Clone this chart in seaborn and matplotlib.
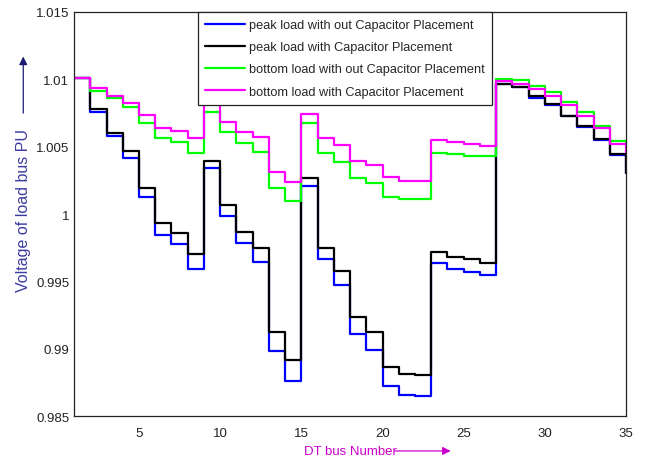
import matplotlib
matplotlib.use("Agg")
import matplotlib.pyplot as plt
import seaborn as sns
import pandas as pd

bus = list(range(1, 36))

peak_no_cap = [1.0101, 1.0076, 1.00578, 1.00415, 1.00125, 0.99848, 0.99779, 0.99591, 1.0034, 0.99989,
               0.99784, 0.99643, 0.98987, 0.9876, 1.00211, 0.99663, 0.99477, 0.99111, 0.98993, 0.98723,
               0.98659, 0.98649, 0.99636, 0.99593, 0.99569, 0.99547, 1.00966, 1.00941, 1.00864, 1.00812,
               1.00728, 1.00648, 1.00552, 1.00438, 1.00306]
peak_cap = [1.0101, 1.0078, 1.00602, 1.00467, 1.00194, 0.99932, 0.99863, 0.99705, 1.00397, 1.00068,
            0.9987, 0.99749, 0.99124, 0.98916, 1.00266, 0.99749, 0.99576, 0.99235, 0.99128, 0.98864,
            0.98815, 0.98802, 0.99722, 0.9968, 0.99663, 0.99638, 1.00966, 1.00941, 1.00879, 1.00818,
            1.00731, 1.00652, 1.00558, 1.00444, 1.00306]
bottom_no_cap = [1.0101, 1.00916, 1.0086, 1.00793, 1.00679, 1.00563, 1.00538, 1.00454, 1.00756, 1.00607,
                 1.00528, 1.00464, 1.00194, 1.00098, 1.00677, 1.00454, 1.00385, 1.00264, 1.00234, 1.0013,
                 1.00113, 1.00113, 1.00452, 1.00444, 1.00434, 1.00429, 1.01003, 1.00993, 1.00949, 1.00904,
                 1.00835, 1.00756, 1.00657, 1.00543, 1.0049]
bottom_cap = [1.0101, 1.00934, 1.00879, 1.00823, 1.00734, 1.00642, 1.00615, 1.00563, 1.0083, 1.00682,
              1.00612, 1.0057, 1.00315, 1.00236, 1.00746, 1.00563, 1.00513, 1.00395, 1.00367, 1.00278,
              1.00246, 1.00246, 1.00553, 1.00533, 1.00518, 1.00508, 1.00986, 1.00966, 1.00929, 1.00879,
              1.0081, 1.00726, 1.00637, 1.00523, 1.0046]

labels = ['peak load with out Capacitor Placement',
          'peak load with Capacitor Placement',
          'bottom load with out Capacitor Placement',
          'bottom load with Capacitor Placement']
colors = ['#0000ff', '#000000', '#00ff00', '#ff00ff']

sns.set_style('white')
plt.rcParams['font.family'] = ['Liberation Sans', 'DejaVu Sans']

df = pd.DataFrame({'bus': bus * 4,
                   'voltage': peak_no_cap + peak_cap + bottom_no_cap + bottom_cap,
                   'series': [l for l in labels for _ in bus]})

fig = plt.figure(figsize=(6.46, 4.64), dpi=100)
ax = fig.add_axes([0.1146, 0.101, 0.8545, 0.871])

sns.lineplot(data=df, x='bus', y='voltage', hue='series', hue_order=labels,
             palette=colors, drawstyle='steps-post', linewidth=1.6, ax=ax)

ax.set_xlim(1, 35)
ax.set_ylim(0.985, 1.015)
ax.set_xticks([5, 10, 15, 20, 25, 30, 35])
ax.set_yticks([0.985, 0.99, 0.995, 1.0, 1.005, 1.01, 1.015])
ax.set_yticklabels(['0.985', '0.99', '0.995', '1', '1.005', '1.01', '1.015'])
ax.tick_params(direction='in', length=4, labelsize=9.5, colors='#222222', width=0.8)
ax.tick_params(axis='x', pad=8)
ax.set_xlabel('')
ax.set_ylabel('')
for s in ax.spines.values():
    s.set_color('#222222')
    s.set_linewidth(0.9)

leg = ax.legend(loc='upper left', bbox_to_anchor=(0.225, 1.0), borderaxespad=0,
                fancybox=False, edgecolor='#222222', fontsize=9.2, handlelength=3.1,
                handletextpad=0.35, borderpad=0.55, framealpha=1, labelspacing=0.8)
leg.get_frame().set_linewidth(0.9)

# axis titles with arrows
fig.text(0.036, 0.547, 'Voltage of load bus PU', rotation=90, color='#3c3ca0',
         fontsize=11.5, ha='center', va='center')
fig.add_artist(matplotlib.patches.FancyArrowPatch(
    (0.036, 0.748), (0.036, 0.882), transform=fig.transFigure,
    arrowstyle='-|>', mutation_scale=12, color='#1a1a70', linewidth=0.9))

fig.text(0.4706, 0.026, 'DT bus Number', color='#cc00cc', fontsize=9.5,
         ha='left', va='center')
fig.add_artist(matplotlib.patches.FancyArrowPatch(
    (0.607, 0.026), (0.702, 0.026), transform=fig.transFigure,
    arrowstyle='-|>', mutation_scale=12, color='#cc00cc', linewidth=0.9))

fig.savefig('out.png', dpi=100)
